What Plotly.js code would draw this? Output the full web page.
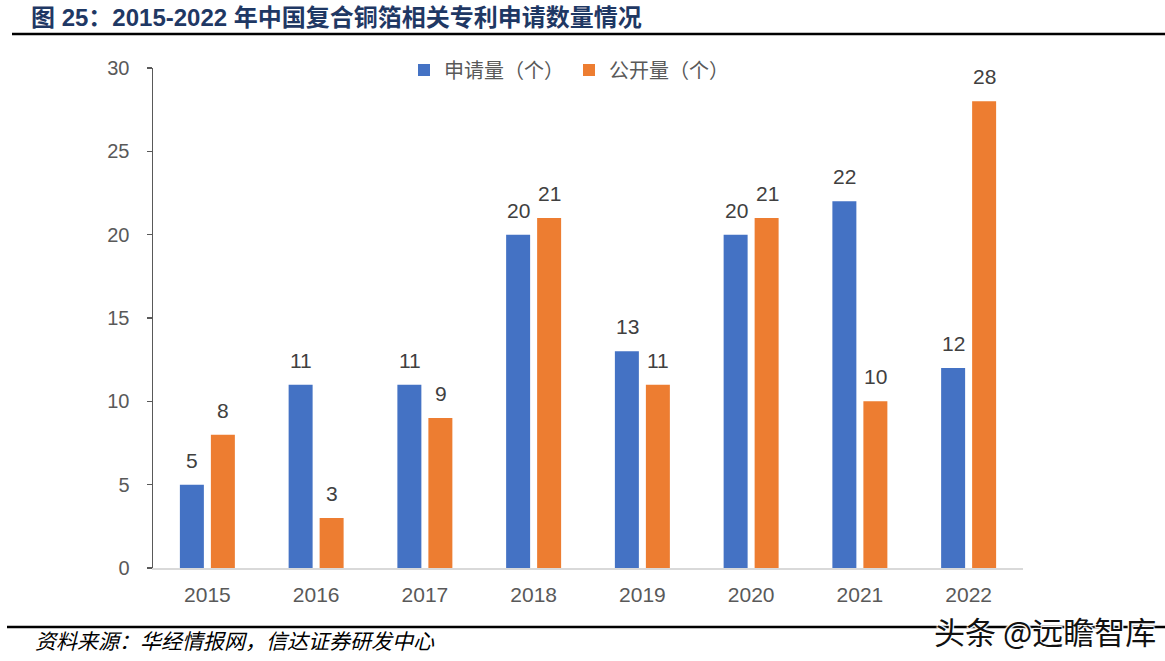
<!DOCTYPE html>
<html>
<head>
<meta charset="utf-8">
<script src="https://cdn.plot.ly/plotly-3.0.1.min.js"></script>
<style>
html,body{margin:0;padding:0;background:#fff;}
#chart{width:1165px;height:661px;}
</style>
</head>
<body>
<div id="chart"></div>
<script>
const years = ['2015','2016','2017','2018','2019','2020','2021','2022'];
const applied = [5, 11, 11, 20, 13, 20, 22, 12];
const published = [8, 3, 9, 21, 11, 21, 10, 28];
const seriesNames = ['申请量（个）', '公开量（个）'];
const yTicks = [0, 5, 10, 15, 20, 25, 30];

const numFont = 'Liberation Sans, Arial, sans-serif';
const labelFont = {family: numFont, size: 21, color: '#404040'};

const traces = [
  {type: 'bar', name: seriesNames[0], x: years, y: applied, marker: {color: '#4472C4'}, hoverinfo: 'none'},
  {type: 'bar', name: seriesNames[1], x: years, y: published, marker: {color: '#ED7D31'}, hoverinfo: 'none'}
];

const pw = 1165 - 153 - 142, ph = 661 - 68 - 93;
function px(x){return (x - 153) / pw;}
function py(y){return (661 - 93 - y) / ph;}

const annotations = [
  {text: '<b>图 25：2015-2022 年中国复合铜箔相关专利申请数量情况</b>', xref: 'paper', yref: 'paper',
   x: px(29), y: py(18), xanchor: 'left', yanchor: 'middle', showarrow: false,
   font: {family: 'Liberation Sans, Noto Sans CJK SC', size: 24, color: '#1F3864'}},
  {text: '资料来源：华经情报网，信达证券研发中心', xref: 'paper', yref: 'paper',
   x: px(33), y: py(640), xanchor: 'left', yanchor: 'middle', showarrow: false,
   font: {family: 'Noto Sans CJK SC', size: 21, color: '#000', style: 'italic'}},
  {text: '头条 @远瞻智库', xref: 'paper', yref: 'paper',
   x: px(1158), y: py(630), xanchor: 'right', yanchor: 'middle', showarrow: false,
   font: {family: 'Noto Sans CJK SC', size: 31, color: '#111', shadow: '1px 1px 1px #fff, -1px -1px 1px #fff, 1px -1px 1px #fff, -1px 1px 1px #fff'}}
];

// value labels above bars (x given as category index)
[applied, published].forEach((vals, i) => {
  vals.forEach((v, j) => {
    annotations.push({text: String(v), x: j, y: v, xref: 'x', yref: 'y',
      xshift: i === 0 ? -15 : 16, yshift: 11, xanchor: 'center', yanchor: 'bottom',
      showarrow: false, font: labelFont});
  });
});

const layout = {
  width: 1165, height: 661,
  margin: {l: 153, r: 142, t: 68, b: 93},
  paper_bgcolor: '#fff', plot_bgcolor: '#fff',
  barmode: 'group', bargap: 0.43, bargroupgap: 0.226,
  showlegend: true,
  legend: {orientation: 'h', x: px(404), xanchor: 'left', y: py(70), yanchor: 'middle',
    font: {family: 'Noto Sans CJK SC', size: 20, color: '#595959'}, itemwidth: 30},
  xaxis: {type: 'category', range: [-0.5, years.length - 0.5], autorange: false, showline: true,
    linecolor: '#d9d9d9', linewidth: 1.5, ticks: '',
    tickfont: {family: numFont, size: 21, color: '#595959'}, ticklabelstandoff: 7, fixedrange: true},
  yaxis: {range: [0, 30], autorange: false, tickvals: yTicks, showgrid: false, zeroline: false, showline: true,
    linecolor: '#595959', linewidth: 1.5, ticks: 'outside', ticklen: 5, tickcolor: '#595959', tickwidth: 1.5,
    tickfont: {family: numFont, size: 20, color: '#595959'}, ticklabelstandoff: 13},
  annotations: annotations,
  shapes: [
    {type: 'line', xref: 'paper', yref: 'paper', x0: px(12), x1: px(1165), y0: py(34), y1: py(34), line: {color: '#000', width: 2.5}},
    {type: 'line', xref: 'paper', yref: 'paper', x0: px(7), x1: px(1165), y0: py(627), y1: py(627), line: {color: '#000', width: 2.5}}
  ]
};

Plotly.newPlot('chart', traces, layout, {displayModeBar: false, staticPlot: true});
</script>
</body>
</html>
